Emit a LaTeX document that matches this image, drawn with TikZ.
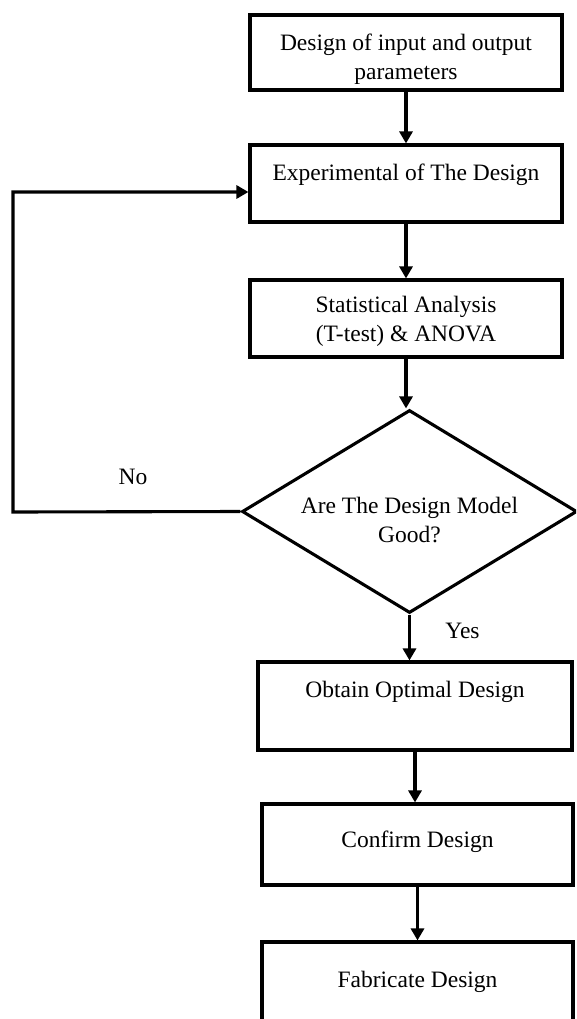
\documentclass[tikz,border=0pt]{standalone}
\usepackage{fontspec}
\setmainfont{Liberation Serif}
\usetikzlibrary{shapes.geometric,arrows.meta}
\tikzset{
  stepbox/.style={draw=black, line width=3.1pt, rectangle, inner sep=0pt, align=center,
    font=\fontsize{23.5}{29}\selectfont},
  decbox/.style={draw=black, line width=3.1pt, diamond, shape aspect=1.65, inner sep=0pt, align=center,
    font=\fontsize{23.5}{29}\selectfont},
  lbl/.style={font=\fontsize{23.5}{29}\selectfont},
  arr/.style={line width=3.1pt, -{Triangle[length=12pt,width=13pt]}},
  conn/.style={line width=3.1pt}
}
\begin{document}
\begin{tikzpicture}[x=1pt,y=-1pt]
\useasboundingbox (0,0) rectangle (576,1019);
\clip (0,0) rectangle (576,1019);
\node[stepbox, minimum width=312pt, minimum height=75pt, text height=61pt, text depth=6pt] (b1) at (406,52.5) {Design of input and output\\parameters};
\node[stepbox, minimum width=312pt, minimum height=77pt, text height=16pt, text depth=23pt] (b2) at (406,183.5) {Experimental of The Design};
\node[stepbox, minimum width=312pt, minimum height=77pt, text height=51pt, text depth=6pt] (b3) at (406,318.5) {Statistical Analysis\\(T-test) \& ANOVA};
\node[decbox, minimum width=335pt, minimum height=203pt, text height=65pt, text depth=3pt] (d) at (409.5,511.5) {Are The Design Model\\Good?};
\node[stepbox, minimum width=314pt, minimum height=88pt, text height=16pt, text depth=34pt] (b4) at (415,706) {Obtain Optimal Design};
\node[stepbox, minimum width=311pt, minimum height=81pt, text height=16pt, text depth=11pt] (b5) at (417.5,844.5) {Confirm Design};
\node[stepbox, minimum width=311pt, minimum height=81pt, text height=16pt, text depth=7pt] (b6) at (417.5,982.5) {Fabricate Design};
\coordinate (lb) at (13,512);
\coordinate (lt) at (13,192);
\draw[arr] (b1.south) -- (b1.south |- b2.north);
\draw[arr] (b2.south) -- (b2.south |- b3.north);
\draw[arr] (b3.south) -- (b3.south |- d.north);
\draw[arr] (d.south) -- node[lbl, pos=0.35, anchor=west, xshift=31pt] {Yes} (d.south |- b4.north);
\draw[arr] (b4.south) -- (b4.south |- b5.north);
\draw[arr] (b5.south) -- (b6.north);
\node[lbl] (no) at (133,477) {No};
\draw[arr] (d.west) -- (lb) -- (lt) -- (lt -| b2.west);
\end{tikzpicture}
\end{document}
